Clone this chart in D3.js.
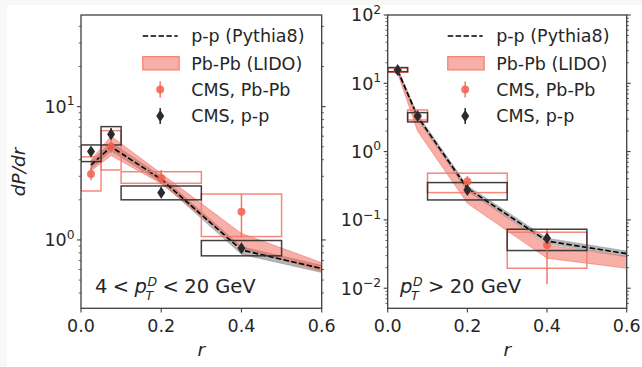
<!DOCTYPE html>
<html><head><meta charset="utf-8">
<script src="https://cdn.jsdelivr.net/npm/d3@7"></script>
<style>body{margin:0;background:#f8f8f8;} text{font-family:"DejaVu Sans";fill:#262626;white-space:pre;}</style>
</head><body><svg id="c" width="642" height="367"></svg>
<script>
// ---------- DATA ----------
const binEdges = [[0,0.05],[0.05,0.1],[0.1,0.3],[0.3,0.5]];
const binCenters = [0.025,0.075,0.2,0.4];
const theoryR = [0.025,0.075,0.2,0.4,0.6];
const xTicks = [0,0.2,0.4,0.6];

// left panel: 4 < pT < 20 GeV
const leftPPVal = [4.6,6.2,2.26,0.866];
const leftPPSys = [[3.87,5.16],[5.16,7.08],[2.0,2.54],[0.76,0.99]];
const leftPPStat = [[4.3,4.95],[5.7,6.9],[2.08,2.5],[0.81,0.93]];
const leftPbVal = [3.13,5.0,2.9,1.63];
const leftPbSys = [[2.33,4.2],[3.35,6.6],[2.66,3.25],[1.06,2.21]];
const leftPbStat = [[2.8,3.5],[4.5,5.6],[2.6,3.35],[1.06,2.21]];
const leftPythia = [3.65,5.0,2.85,0.84,0.61];
const leftPythiaLo = [3.4,4.65,2.7,0.78,0.57];
const leftPythiaHi = [3.9,5.4,3.0,0.89,0.645];
const leftLidoLo = [3.3,4.3,2.65,0.87,0.585];
const leftLidoHi = [4.0,6.0,3.15,1.12,0.675];
const leftYTicks = [1,10];

// right panel: pT > 20 GeV
const rightPPVal = [15.7,3.33,0.275,0.054];
const rightPPSys = [[14.8,17],[2.72,3.72],[0.196,0.352],[0.0356,0.073]];
const rightPPStat = [[14.5,17],[3.0,3.7],[0.24,0.31],[0.046,0.063]];
const rightPbVal = [15.5,3.3,0.364,0.043];
const rightPbSys = [[14.5,16.8],[2.9,4.07],[0.251,0.483],[0.0196,0.066]];
const rightPbStat = [[14,17],[3.0,3.6],[0.3,0.44],[0.0114,0.071]];
const rightPythia = [15.5,3.25,0.29,0.049,0.032];
const rightPythiaLo = [14.5,3.0,0.265,0.045,0.029];
const rightPythiaHi = [16.5,3.5,0.315,0.054,0.035];
const rightLidoLo = [14,2.0,0.175,0.0275,0.0196];
const rightLidoHi = [16.5,3.0,0.27,0.043,0.029];
const rightYTicks = [0.01,0.1,1,10,100];

const legendLabels = ["p-p (Pythia8)","Pb-Pb (LIDO)","CMS, Pb-Pb","CMS, p-p"];

// ---------- STYLE ----------
const RED = "#f2604f", RED_BOX = "#f47a6d", BLACK = "#2b2b2b", SPINE = "#3f3f3f";
const FS = 17.5, AFS = 19.5, SFS = 12.5, TS = 5.4;
const svg = d3.select("#c");
svg.append("rect").attr("x",0).attr("y",0).attr("width",642).attr("height",367).attr("fill","#f8f8f8");
svg.append("rect").attr("x",7).attr("y",5).attr("width",635).attr("height",362).attr("fill","#ffffff");

function mathText(g, x, y, parts){
  const t = g.append("text").attr("x",x).attr("y",y).attr("font-size",AFS);
  parts.forEach(p=>{
    const s = t.append("tspan").text(p.t);
    if(p.italic) s.attr("font-style","italic");
    if(p.size) s.attr("font-size",p.size);
    if(p.dx) s.attr("dx",p.dx);
    if(p.dy) s.attr("dy",p.dy);
  });
}

function drawPanel(cfg){
  const x = d3.scaleLinear().domain([0,0.6]).range(cfg.xr);
  const y = d3.scaleLog().domain(cfg.yd).range([308.3,15]);
  const g = svg.append("g");
  const id = "clip"+cfg.name;
  svg.append("defs").append("clipPath").attr("id",id).append("rect")
    .attr("x",cfg.xr[0]).attr("y",15).attr("width",cfg.xr[1]-cfg.xr[0]).attr("height",293.3);
  const pg = g.append("g").attr("clip-path",`url(#${id})`);

  // bands
  const area = (lo,hi)=>d3.area().x((d,i)=>x(theoryR[i])).y0((d,i)=>y(lo[i])).y1((d,i)=>y(hi[i]))(theoryR);
  pg.append("path").attr("d",area(cfg.pyLo,cfg.pyHi)).attr("fill","#7a7a7a").attr("fill-opacity",0.55)
    .attr("stroke","#7a7a7a").attr("stroke-opacity",0.4).attr("stroke-width",1);
  pg.append("path").attr("d",area(cfg.liLo,cfg.liHi)).attr("fill",RED).attr("fill-opacity",0.5)
    .attr("stroke",RED).attr("stroke-opacity",0.5).attr("stroke-width",1);
  pg.append("path").attr("d",d3.line().x((d,i)=>x(theoryR[i])).y((d,i)=>y(cfg.py[i]))(theoryR))
    .attr("fill","none").attr("stroke","#000").attr("stroke-width",1.6).attr("stroke-dasharray","5.5,2.4");

  // systematic boxes
  const boxes = (sys,col,op)=>binEdges.forEach((e,i)=>{
    pg.append("rect").attr("x",x(e[0])).attr("width",x(e[1])-x(e[0]))
      .attr("y",y(sys[i][1])).attr("height",y(sys[i][0])-y(sys[i][1]))
      .attr("fill","none").attr("stroke",col).attr("stroke-opacity",op).attr("stroke-width",1.5);
  });
  boxes(cfg.pbSys,RED_BOX,0.9);
  boxes(cfg.ppSys,BLACK,0.9);

  // data points
  binCenters.forEach((r,i)=>{
    pg.append("line").attr("x1",x(r)).attr("x2",x(r)).attr("y1",y(cfg.pbStat[i][0])).attr("y2",y(cfg.pbStat[i][1]))
      .attr("stroke",RED).attr("stroke-opacity",0.85).attr("stroke-width",1.5);
    pg.append("circle").attr("cx",x(r)).attr("cy",y(cfg.pbVal[i])).attr("r",4).attr("fill",RED).attr("fill-opacity",0.85);
  });
  binCenters.forEach((r,i)=>{
    pg.append("line").attr("x1",x(r)).attr("x2",x(r)).attr("y1",y(cfg.ppStat[i][0])).attr("y2",y(cfg.ppStat[i][1]))
      .attr("stroke",BLACK).attr("stroke-width",1.5);
    const cx=x(r), cy=y(cfg.ppVal[i]);
    pg.append("path").attr("d",`M${cx},${cy-6}L${cx+4},${cy}L${cx},${cy+6}L${cx-4},${cy}Z`).attr("fill",BLACK);
  });

  // spines
  g.append("rect").attr("x",cfg.xr[0]).attr("y",15).attr("width",cfg.xr[1]-cfg.xr[0]).attr("height",293.3)
    .attr("fill","none").attr("stroke",SPINE).attr("stroke-width",1.3);

  // x ticks
  xTicks.forEach(t=>{
    g.append("line").attr("x1",x(t)).attr("x2",x(t)).attr("y1",308.3).attr("y2",312.5).attr("stroke",SPINE).attr("stroke-width",1.1);
    g.append("text").attr("x",x(t)).attr("y",332).attr("text-anchor","middle").attr("font-size",FS).text(d3.format(".1f")(t));
  });
  g.append("text").attr("x",(cfg.xr[0]+cfg.xr[1])/2).attr("y",356).attr("text-anchor","middle")
    .attr("font-size",FS+1).attr("font-style","italic").text("r");

  // y ticks (major + minor, both sides)
  const [y0,y1] = cfg.yd;
  for(let e=Math.floor(Math.log10(y0)); e<=Math.ceil(Math.log10(y1)); e++){
    for(let m=1;m<10;m++){
      const v = m*Math.pow(10,e);
      if(v<y0*0.999||v>y1*1.001) continue;
      const L = m===1?4:2.3;
      [[cfg.xr[0],-L],[cfg.xr[1],L]].forEach(([sx,d])=>{
        g.append("line").attr("x1",sx).attr("x2",sx+d).attr("y1",y(v)).attr("y2",y(v)).attr("stroke",SPINE).attr("stroke-width",m===1?1.1:0.8);
      });
    }
  }
  cfg.yt.forEach(v=>{
    const e = Math.round(Math.log10(v));
    const t = g.append("text").attr("x",cfg.xr[0]-6.5).attr("y",y(v)+6.3).attr("text-anchor","end").attr("font-size",FS);
    t.append("tspan").text("10");
    t.append("tspan").attr("dy",-7.5).attr("font-size",12.3).text(e<0?"\u2212"+(-e):String(e));
  });

  // legend
  const lx = cfg.xr[1]-179, tx = cfg.xr[1]-130.5, mx = cfg.xr[1]-161.5;
  const rows = [36,63.3,89.5,116];
  g.append("line").attr("x1",lx).attr("x2",lx+35).attr("y1",rows[0]).attr("y2",rows[0])
    .attr("stroke","#000").attr("stroke-width",1.6).attr("stroke-dasharray","5.5,2.4");
  g.append("rect").attr("x",lx).attr("y",rows[1]-6.7).attr("width",36.5).attr("height",13.4)
    .attr("fill",RED).attr("fill-opacity",0.5).attr("stroke",RED).attr("stroke-opacity",0.7).attr("stroke-width",1.2);
  g.append("line").attr("x1",mx).attr("x2",mx).attr("y1",rows[2]-8).attr("y2",rows[2]+8).attr("stroke",RED).attr("stroke-opacity",0.85).attr("stroke-width",1.5);
  g.append("circle").attr("cx",mx).attr("cy",rows[2]).attr("r",4).attr("fill",RED).attr("fill-opacity",0.85);
  g.append("line").attr("x1",mx).attr("x2",mx).attr("y1",rows[3]-8).attr("y2",rows[3]+8).attr("stroke",BLACK).attr("stroke-width",1.5);
  g.append("path").attr("d",`M${mx},${rows[3]-6}L${mx+4},${rows[3]}L${mx},${rows[3]+6}L${mx-4},${rows[3]}Z`).attr("fill",BLACK);
  legendLabels.forEach((l,i)=>g.append("text").attr("x",tx).attr("y",rows[i]+6.3).attr("font-size",FS).text(l));

  // annotation
  mathText(g, cfg.annX, 293, cfg.ann);
}

const wD = 0.77*SFS, wT = 0.611*SFS;
const supsub = [{t:"D",italic:true,size:SFS,dx:0.5,dy:-7.5},{t:"T",italic:true,size:SFS,dx:-wD-2,dy:14.5}];
drawPanel({name:"L", xr:[81,321.7], yd:[0.307,48.7], yt:leftYTicks,
  ppVal:leftPPVal, ppSys:leftPPSys, ppStat:leftPPStat, pbVal:leftPbVal, pbSys:leftPbSys, pbStat:leftPbStat,
  py:leftPythia, pyLo:leftPythiaLo, pyHi:leftPythiaHi, liLo:leftLidoLo, liHi:leftLidoHi,
  annX:95, ann:[{t:"4"},{t:"<",dx:TS},{t:"p",italic:true,dx:TS},...supsub,{t:"<",dx:wD-wT+2+TS,dy:-7},{t:"20",dx:TS},{t:" GeV"}]});
drawPanel({name:"R", xr:[387.7,626.7], yd:[0.00508,100], yt:rightYTicks,
  ppVal:rightPPVal, ppSys:rightPPSys, ppStat:rightPPStat, pbVal:rightPbVal, pbSys:rightPbSys, pbStat:rightPbStat,
  py:rightPythia, pyLo:rightPythiaLo, pyHi:rightPythiaHi, liLo:rightLidoLo, liHi:rightLidoHi,
  annX:400, ann:[{t:"p",italic:true},...supsub,{t:">",dx:wD-wT+2+TS,dy:-7},{t:"20",dx:TS},{t:" GeV"}]});

// y label
svg.append("text").attr("transform","translate(25,172) rotate(-90)").attr("text-anchor","middle")
  .attr("font-size",FS+1).attr("font-style","italic").text("dP/dr");
</script></body></html>
